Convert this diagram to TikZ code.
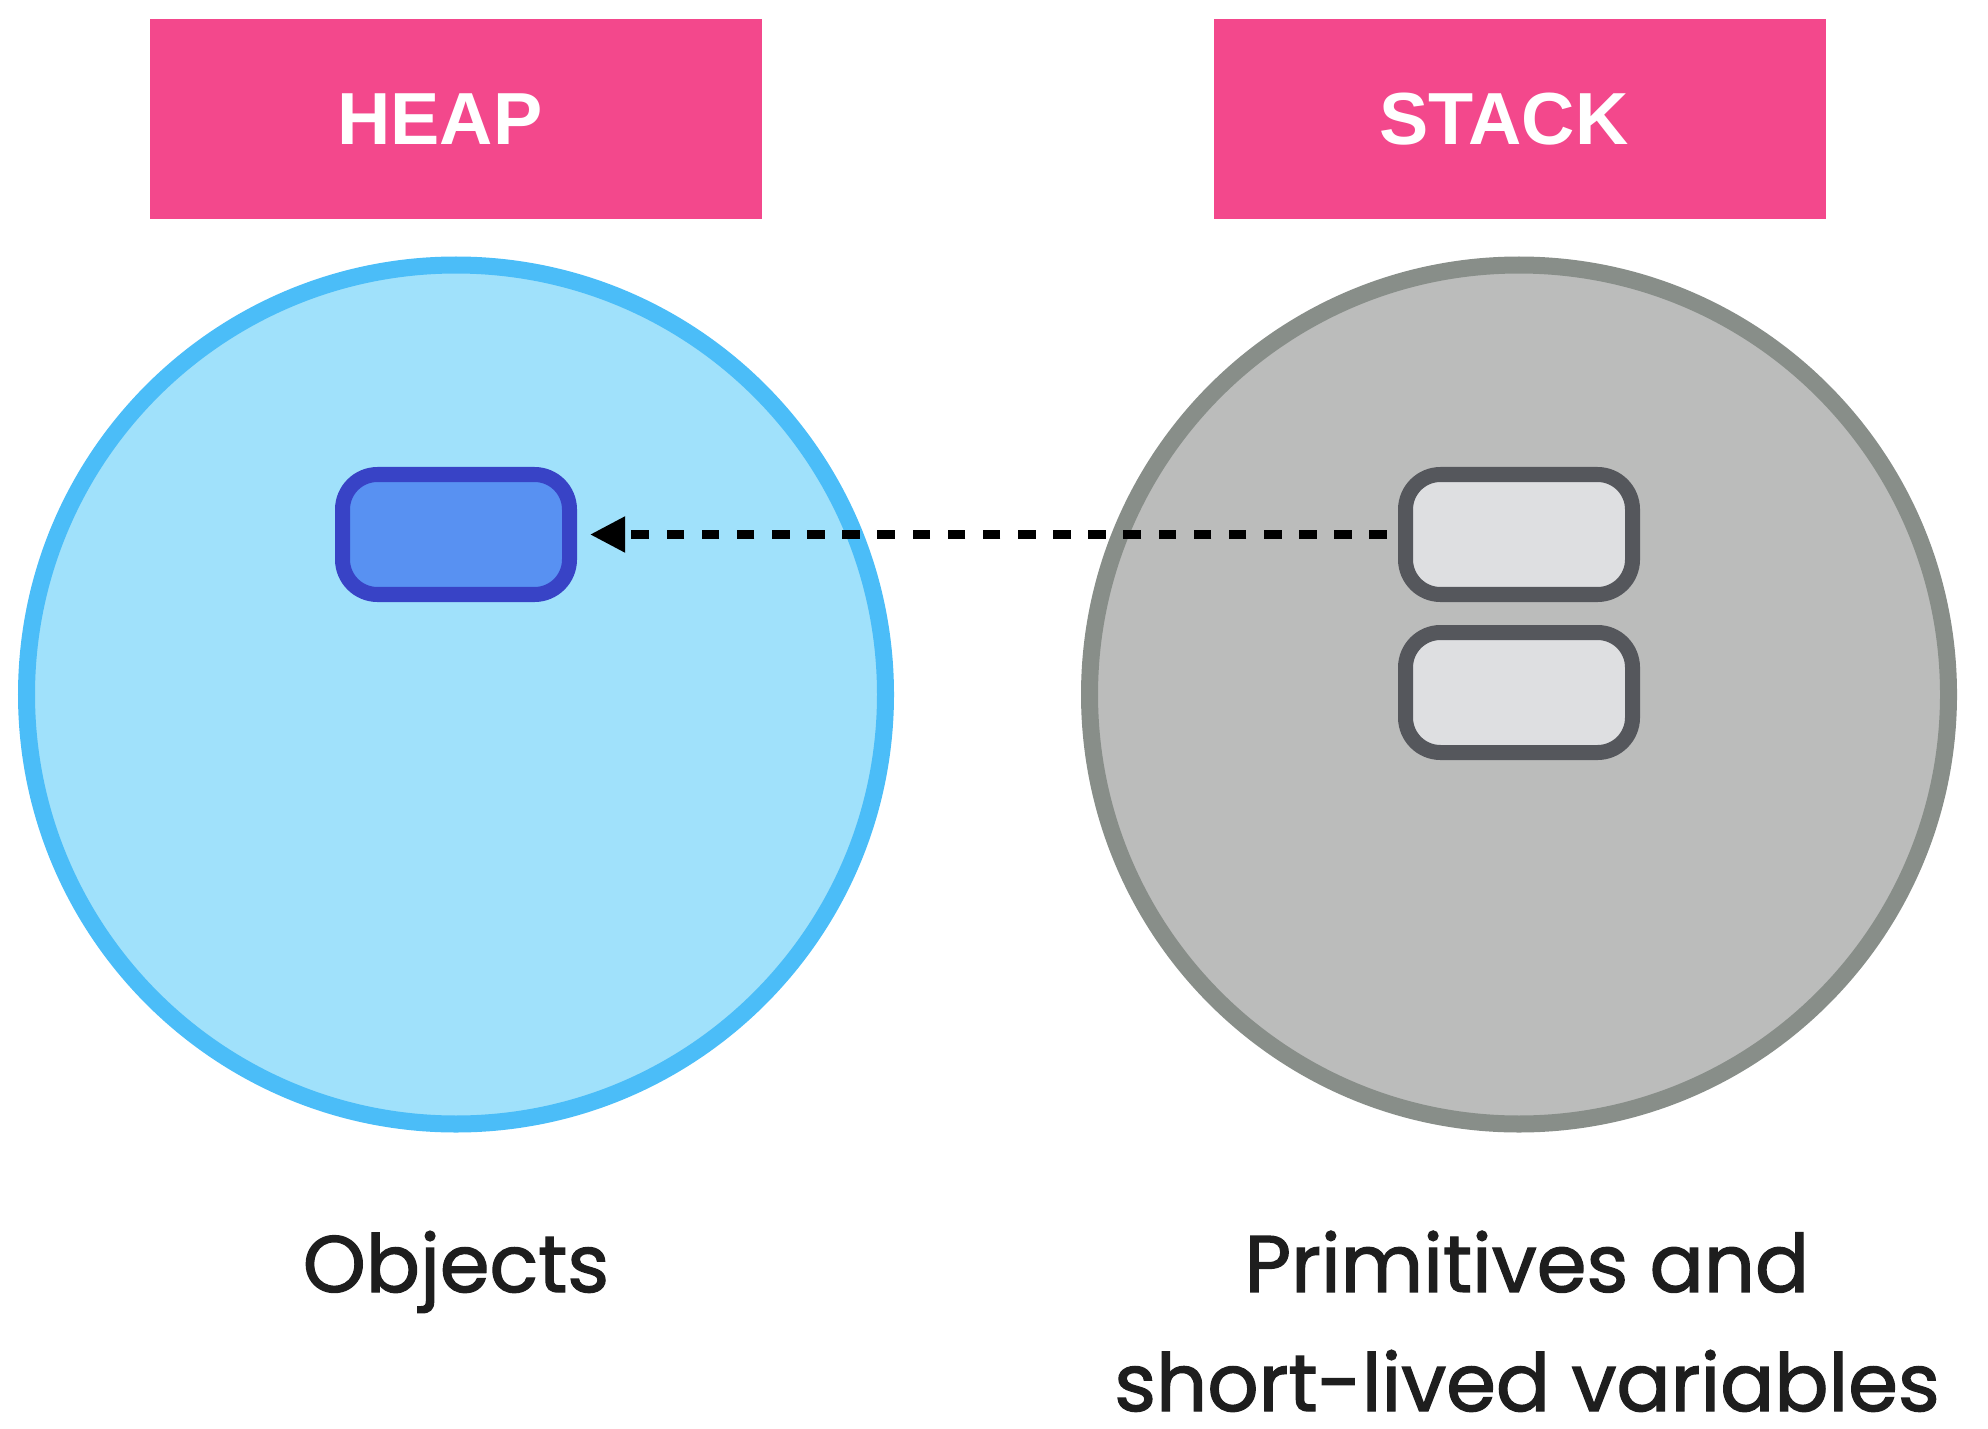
\documentclass[tikz,border=0pt]{standalone}
\usepackage{xcolor}
\usepackage{fontspec}
\setmainfont{Poppins}[FakeBold=1.6]
\newfontfamily\titlefont{Liberation Sans}
\usepackage{tikz}
\usetikzlibrary{arrows.meta}
\usetikzlibrary{positioning}

\definecolor{titlepink}{HTML}{F3488C}
\definecolor{heapfill}{HTML}{A0E1FB}
\definecolor{heapline}{HTML}{4BBDF8}
\definecolor{objfill}{HTML}{5891F2}
\definecolor{objline}{HTML}{3843C6}
\definecolor{stackfill}{HTML}{BBBCBB}
\definecolor{stackline}{HTML}{888E89}
\definecolor{primfill}{HTML}{DEDFE1}
\definecolor{primline}{HTML}{55575C}
\definecolor{labeltext}{HTML}{1E1E1E}

\begin{document}
\begin{tikzpicture}[x=0.1mm, y=-0.1mm,
  titlebox/.style={rectangle, fill=titlepink, minimum width=61.2mm, minimum height=20mm, inner sep=0pt},
  titletext/.style={text=white, inner sep=0pt, font=\titlefont\bfseries\fontsize{21}{25}\selectfont},
  region/.style={circle, minimum size=85.9mm, inner sep=0pt, line width=4.84pt},
  cell/.style={rectangle, rounded corners=3.5mm, minimum width=22.7mm, minimum height=12mm, inner sep=0pt, line width=4.27pt},
  caption/.style={text=labeltext, align=center, inner sep=0pt, font=\fontsize{22.8}{33.9}\selectfont}]
\useasboundingbox (0,0) rectangle (1988,1428);
\node [titlebox] (heaptitle) at (456, 119) {};
\node [titlebox] (stacktitle) at (1520, 119) {};
\node [titletext] (heaptext) at ([xshift=-1.6mm]heaptitle.center) {HEAP};
\node [titletext] (stacktext) at ([xshift=-1.6mm]stacktitle.center) {STACK};
\node [region, fill=heapfill, draw=heapline] (heap) at (456, 694.5) {};
\node [region, fill=stackfill, draw=stackline] (stack) at (1519, 694.5) {};
\node [cell, fill=objfill, draw=objline] (obj) at (456, 534.5) {};
\node [cell, fill=primfill, draw=primline] (prim1) at (1519, 534.5) {};
\node [cell, fill=primfill, draw=primline, below=2.3mm of prim1] (prim2) {};
\draw [-{Triangle[length=10pt, width=9.7pt]}, line width=2.3pt, dash pattern=on 5pt off 5pt, shorten <=1.1mm, shorten >=1.3mm] (prim1.west) to (obj.east);
\node [caption, anchor=base] (objlabel) at (456, 1292) {Objects};
\node [caption, anchor=base] (primlabel) at (1527, 1411) {Primitives and\\short-lived variables};
\end{tikzpicture}
\end{document}
